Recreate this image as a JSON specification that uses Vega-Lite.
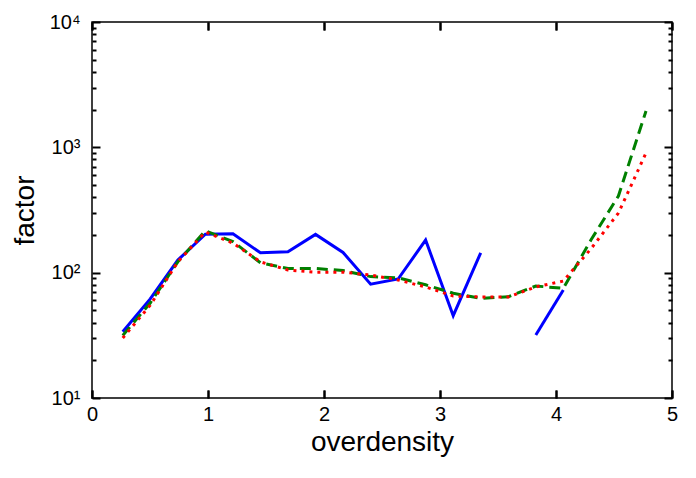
{
  "$schema": "https://vega.github.io/schema/vega-lite/v6.json",
  "width": 580,
  "height": 376,
  "autosize": "none",
  "padding": {"left": 92, "top": 22, "right": 24, "bottom": 80},
  "background": "white",
  "config": {
    "view": {"stroke": "black", "strokeWidth": 1.5},
    "font": "Liberation Sans",
    "axis": {"grid": false, "ticks": true, "domain": false, "tickColor": "#000000", "tickWidth": 2, "labelColor": "black", "titleColor": "black", "titleFontWeight": "normal"}
  },
  "datasets": {
    "blue1": [
      {"x": 0.265, "y": 33.8},
      {"x": 0.502, "y": 61.7},
      {"x": 0.740, "y": 126},
      {"x": 0.977, "y": 203},
      {"x": 1.215, "y": 204},
      {"x": 1.452, "y": 144},
      {"x": 1.689, "y": 147},
      {"x": 1.927, "y": 202},
      {"x": 2.164, "y": 145},
      {"x": 2.402, "y": 81},
      {"x": 2.639, "y": 89},
      {"x": 2.876, "y": 182},
      {"x": 3.114, "y": 45.4},
      {"x": 3.351, "y": 144}
    ],
    "blue2": [
      {"x": 3.826, "y": 31.8},
      {"x": 4.063, "y": 72.7}
    ],
    "green": [
      {"x": 0.265, "y": 31.5},
      {"x": 0.502, "y": 57.3},
      {"x": 0.740, "y": 122},
      {"x": 0.977, "y": 216},
      {"x": 1.215, "y": 177},
      {"x": 1.452, "y": 120},
      {"x": 1.689, "y": 108},
      {"x": 1.927, "y": 108},
      {"x": 2.164, "y": 104},
      {"x": 2.402, "y": 93},
      {"x": 2.639, "y": 91},
      {"x": 2.876, "y": 80},
      {"x": 3.114, "y": 68.5},
      {"x": 3.351, "y": 62.4},
      {"x": 3.589, "y": 64.2},
      {"x": 3.826, "y": 78.3},
      {"x": 4.063, "y": 75},
      {"x": 4.301, "y": 182},
      {"x": 4.538, "y": 409},
      {"x": 4.776, "y": 1950}
    ],
    "red": [
      {"x": 0.265, "y": 30.1},
      {"x": 0.502, "y": 55},
      {"x": 0.740, "y": 122},
      {"x": 0.977, "y": 211},
      {"x": 1.215, "y": 172},
      {"x": 1.452, "y": 122},
      {"x": 1.689, "y": 105},
      {"x": 1.927, "y": 101},
      {"x": 2.164, "y": 101},
      {"x": 2.402, "y": 95.7},
      {"x": 2.639, "y": 87.4},
      {"x": 2.876, "y": 76.9},
      {"x": 3.114, "y": 65.2},
      {"x": 3.351, "y": 64},
      {"x": 3.589, "y": 64},
      {"x": 3.826, "y": 77},
      {"x": 4.063, "y": 85.7},
      {"x": 4.301, "y": 155},
      {"x": 4.538, "y": 299},
      {"x": 4.776, "y": 901}
    ]
  },
  "layer": [
    {
      "data": {"name": "blue1"},
      "mark": {"type": "line", "color": "#0000ff", "strokeWidth": 3},
      "encoding": {
        "x": {
          "field": "x", "type": "quantitative",
          "scale": {"domain": [0, 5], "nice": false, "zero": false},
          "axis": {"orient": "bottom", "offset": -8, "values": [0, 1, 2, 3, 4, 5], "tickSize": 8, "tickColor": "#000000", "tickWidth": 2, "labelFontSize": 20, "labelPadding": 6, "labelFlush": false, "title": "overdensity", "titleFontSize": 28, "titlePadding": 4}
        },
        "y": {
          "field": "y", "type": "quantitative",
          "scale": {"type": "log", "domain": [10, 10000], "nice": false},
          "axis": {
            "orient": "left", "offset": -8,
            "values": [10, 100, 1000, 10000],
            "tickSize": 8, "tickColor": "#000000", "tickWidth": 2,
            "labelExpr": "datum.value == 10 ? '10¹' : datum.value == 100 ? '10²' : datum.value == 1000 ? '10³' : '10⁴'",
            "labelFontSize": 20, "labelPadding": 12, "labelFlush": false, "labelOverlap": false,
            "title": "factor", "titleFontSize": 28, "titlePadding": 10
          }
        }
      }
    },
    {
      "data": {"name": "blue2"},
      "mark": {"type": "line", "color": "#0000ff", "strokeWidth": 3},
      "encoding": {
        "x": {
          "field": "x", "type": "quantitative",
          "axis": {"orient": "top", "offset": -8, "values": [0, 1, 2, 3, 4, 5], "tickSize": 8, "tickColor": "#000000", "tickWidth": 2, "labels": false, "title": null}
        },
        "y": {
          "field": "y", "type": "quantitative",
          "axis": {
            "orient": "left", "offset": -4,
            "values": [20, 30, 40, 50, 60, 70, 80, 90, 200, 300, 400, 500, 600, 700, 800, 900, 2000, 3000, 4000, 5000, 6000, 7000, 8000, 9000],
            "tickSize": 4, "tickColor": "#000000", "tickWidth": 2, "labels": false, "title": null
          }
        }
      }
    },
    {
      "data": {"name": "green"},
      "mark": {"type": "line", "color": "#008000", "strokeWidth": 3, "strokeDash": [11, 6]},
      "encoding": {
        "x": {
          "field": "x", "type": "quantitative",
          "axis": {"orient": "bottom", "offset": -8, "values": [0, 1, 2, 3, 4, 5], "tickSize": 8, "tickColor": "#000000", "tickWidth": 2, "labels": false, "title": null}
        },
        "y": {
          "field": "y", "type": "quantitative",
          "axis": {
            "orient": "right", "offset": -8,
            "values": [10, 100, 1000, 10000],
            "tickSize": 8, "tickColor": "#000000", "tickWidth": 2, "labels": false, "title": null
          }
        }
      }
    },
    {
      "data": {"name": "red"},
      "mark": {"type": "line", "color": "#ff0000", "strokeWidth": 3, "strokeDash": [3, 5]},
      "encoding": {
        "x": {
          "field": "x", "type": "quantitative",
          "axis": {"orient": "top", "offset": -8, "values": [0, 1, 2, 3, 4, 5], "tickSize": 8, "tickColor": "#000000", "tickWidth": 2, "labels": false, "title": null}
        },
        "y": {
          "field": "y", "type": "quantitative",
          "axis": {
            "orient": "right", "offset": -4,
            "values": [20, 30, 40, 50, 60, 70, 80, 90, 200, 300, 400, 500, 600, 700, 800, 900, 2000, 3000, 4000, 5000, 6000, 7000, 8000, 9000],
            "tickSize": 4, "tickColor": "#000000", "tickWidth": 2, "labels": false, "title": null
          }
        }
      }
    }
  ],
  "resolve": {"axis": {"x": "independent", "y": "independent"}}
}
